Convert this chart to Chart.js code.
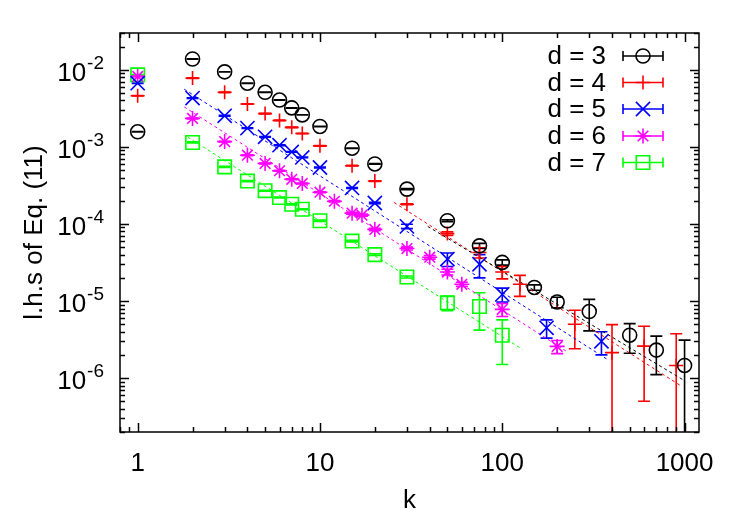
<!DOCTYPE html>
<html><head><meta charset="utf-8">
<script src="https://cdn.jsdelivr.net/npm/chart.js@4/dist/chart.umd.min.js"></script>
<style>html,body{margin:0;padding:0;background:#fff;}#wrap{width:747px;height:523px;}</style>
</head><body><div id="wrap"><canvas id="c" width="747" height="523"></canvas></div>
<script>
// ---- data ----
const seriesLabels = ['d = 3', 'd = 4', 'd = 5', 'd = 6', 'd = 7'];

const kD3 = [1,2,3,4,5,6,7,8,10,15,20,30,50,75,100,150,200,300,500,700,1000];
const vD3 = [1.57e-3,1.38e-2,9.4e-3,6.7e-3,5.1e-3,4.05e-3,3.2e-3,2.6e-3,1.84e-3,9.6e-4,6.0e-4,2.83e-4,1.1e-4,5.2e-5,3.17e-5,1.5e-5,9.7e-6,7.3e-6,3.6e-6,2.31e-6,1.46e-6];
const eD3 = [1e-5,5e-5,4e-5,3e-5,2.5e-5,2e-5,1.5e-5,1.3e-5,1e-5,8e-6,6e-6,4e-6,3e-6,4e-6,2.5e-6,1.2e-6,1.5e-6,3.2e-6,1.5e-6,1.2e-6,1.65e-6];

const kD4 = [1,2,3,4,5,6,7,8,10,15,20,30,50,75,100,125,250,400,600,900];
const vD4 = [4.6e-3,7.8e-3,5.1e-3,3.6e-3,2.7e-3,2.2e-3,1.79e-3,1.49e-3,1.03e-3,5.7e-4,3.6e-4,1.8e-4,7.5e-5,4.26e-5,2.38e-5,1.65e-5,5.0e-6,2.14e-6,2.6e-6,1.46e-6];
const eD4 = [3e-5,6e-5,4e-5,3e-5,2e-5,2e-5,1.5e-5,1.2e-5,8e-6,5e-6,3e-6,2e-6,4e-6,6.5e-6,4.4e-6,5e-6,2.6e-6,2.8e-6,2.1e-6,2.3e-6];

const kD5 = [1,2,3,4,5,6,7,8,10,15,20,30,50,75,100,175,350];
const vD5 = [6.7e-3,4.3e-3,2.53e-3,1.75e-3,1.35e-3,1.05e-3,8.6e-4,7.3e-4,5.4e-4,2.93e-4,1.87e-4,9.3e-5,3.5e-5,3.0e-5,1.22e-5,4.5e-6,3.0e-6];
const eD5 = [5e-5,4e-5,3e-5,2e-5,1.5e-5,1.2e-5,1e-5,8e-6,6e-6,4e-6,4e-6,6e-6,7e-6,1e-5,2.5e-6,1.2e-6,1e-6];

const kD6 = [1,2,3,4,5,6,7,8,10,12,15,17,20,30,40,50,60,100,200];
const vD6 = [8.2e-3,2.34e-3,1.17e-3,7.8e-4,6.1e-4,4.9e-4,3.8e-4,3.35e-4,2.58e-4,1.97e-4,1.38e-4,1.3e-4,8.5e-5,4.8e-5,3.7e-5,2.38e-5,1.65e-5,7.8e-6,2.58e-6];
const eD6 = [5e-5,3e-5,1.5e-5,1e-5,8e-6,6e-6,5e-6,4e-6,4e-6,4e-6,4e-6,4e-6,3e-6,2e-6,2e-6,2e-6,1e-6,1.5e-6,5e-7];

const kD7 = [1,2,3,4,5,6,7,8,10,15,20,30,50,75,100];
const vD7 = [8.6e-3,1.14e-3,5.5e-4,3.6e-4,2.7e-4,2.2e-4,1.8e-4,1.55e-4,1.1e-4,6.0e-5,4.0e-5,2.05e-5,9.5e-6,8.5e-6,3.6e-6];
const eD7 = [5e-5,2e-5,8e-6,6e-6,4e-6,3e-6,3e-6,2e-6,2e-6,1.5e-6,1e-6,6e-7,2e-6,4.3e-6,2.1e-6];

// power-law fit lines (end points)
const fitK3 = [39, 975],  fitV3 = [9.3e-5, 9.6e-7];
const fitK4 = [25.5, 950], fitV4 = [1.9e-4, 8.0e-7];
const fitK5 = [1.8, 377], fitV5 = [5.6e-3, 1.75e-6];
const fitK6 = [1.8, 230], fitV6 = [3.3e-3, 2.16e-6];
const fitK7 = [1.88, 129], fitV7 = [1.34e-3, 2.36e-6];

// axis ticks
const xMajor = [1, 10, 100, 1000];
const yExp = [-6, -5, -4, -3, -2];

// ---- styling ----
const FONT = "'Liberation Sans', Arial, Helvetica, sans-serif";
const FS = 26;
const colors = ['#000000', '#ff0000', '#0000ff', '#ff00ff', '#00ff00'];
const styles = ['circle', 'cross', 'crossRot', 'star', 'rect'];
const radii = [7, 7, 10, 7.5, 9.5];

const ks = [kD3, kD4, kD5, kD6, kD7];
const vs = [vD3, vD4, vD5, vD6, vD7];
const es = [eD3, eD4, eD5, eD6, eD7];
const fks = [fitK3, fitK4, fitK5, fitK6, fitK7];
const fvs = [fitV3, fitV4, fitV5, fitV6, fitV7];

const datasets = [];
for (let i = 0; i < 5; i++) {
  datasets.push({
    label: seriesLabels[i],
    type: 'scatter',
    data: ks[i].map((k, j) => ({x: k, y: vs[i][j]})),
    pointStyle: styles[i],
    pointRadius: radii[i],
    pointBorderWidth: 1.6,
    pointBorderColor: colors[i],
    pointBackgroundColor: 'rgba(0,0,0,0)',
    showLine: false,
    order: 1
  });
}
for (let i = 0; i < 5; i++) {
  datasets.push({
    label: 'fit ' + seriesLabels[i],
    type: 'line',
    data: fks[i].map((k, j) => ({x: k, y: fvs[i][j]})),
    borderColor: colors[i],
    borderWidth: 1,
    borderDash: [3, 3],
    pointRadius: 0,
    fill: false,
    order: 2
  });
}

const errPlugin = {
  id: 'errbars',
  beforeDatasetsDraw(chart) {
    const ctx = chart.ctx, xs = chart.scales.x, ys = chart.scales.y, ca = chart.chartArea;
    ctx.save();
    ctx.beginPath(); ctx.rect(ca.left, ca.top, ca.right - ca.left, ca.bottom - ca.top); ctx.clip();
    ctx.lineWidth = 1.6;
    const cap = 6;
    for (let i = 4; i >= 0; i--) {
      ctx.strokeStyle = colors[i];
      ks[i].forEach((k, j) => {
        const v = vs[i][j], e = es[i][j];
        const px = xs.getPixelForValue(k);
        const pt = ys.getPixelForValue(v + e);
        const low = v - e;
        const pb = low > 0 ? ys.getPixelForValue(low) : ca.bottom + 5;
        ctx.beginPath();
        ctx.moveTo(px, pt); ctx.lineTo(px, pb);
        ctx.moveTo(px - cap, pt); ctx.lineTo(px + cap, pt);
        if (low > 0) { ctx.moveTo(px - cap, pb); ctx.lineTo(px + cap, pb); }
        ctx.stroke();
      });
    }
    ctx.restore();
  }
};

const framePlugin = {
  id: 'frame',
  afterDraw(chart) {
    const ctx = chart.ctx, xs = chart.scales.x, ys = chart.scales.y, ca = chart.chartArea;
    ctx.save();
    ctx.strokeStyle = '#000'; ctx.lineWidth = 1.5;
    ctx.strokeRect(ca.left, ca.top, ca.right - ca.left, ca.bottom - ca.top);
    ctx.beginPath();
    for (let d = -1; d <= 3; d++) {
      for (let m = 1; m <= 9; m++) {
        const v = m * Math.pow(10, d);
        if (v < xs.min || v > xs.max) continue;
        const px = Math.round(xs.getPixelForValue(v)) + 0.5;
        const len = m === 1 ? 9 : 5;
        ctx.moveTo(px, ca.bottom); ctx.lineTo(px, ca.bottom - len);
        ctx.moveTo(px, ca.top); ctx.lineTo(px, ca.top + len);
      }
    }
    for (let d = -7; d <= -2; d++) {
      for (let m = 1; m <= 9; m++) {
        const v = m * Math.pow(10, d);
        if (v < ys.min || v > ys.max) continue;
        const py = Math.round(ys.getPixelForValue(v)) + 0.5;
        const len = m === 1 ? 9 : 5;
        ctx.moveTo(ca.left, py); ctx.lineTo(ca.left + len, py);
        ctx.moveTo(ca.right, py); ctx.lineTo(ca.right - len, py);
      }
    }
    ctx.stroke();

    // y tick labels 10^e
    ctx.fillStyle = '#000';
    ctx.textBaseline = 'alphabetic';
    const mainF = FS + 'px ' + FONT, supF = '19px ' + FONT;
    yExp.forEach(e => {
      const py = ys.getPixelForValue(Math.pow(10, e));
      const sup = String(e);
      ctx.font = supF; const sw = ctx.measureText(sup).width;
      ctx.font = mainF; const mw = ctx.measureText('10').width;
      const xEnd = 104;
      ctx.textAlign = 'left';
      ctx.font = mainF; ctx.fillText('10', xEnd - sw - mw - 1, py + 11);
      ctx.font = supF; ctx.fillText(sup, xEnd - sw, py - 1);
    });

    // legend
    const rowY = [56, 82.5, 109, 136, 162.5];
    ctx.font = FS + 'px ' + FONT;
    ctx.textAlign = 'right'; ctx.textBaseline = 'middle';
    for (let i = 0; i < 5; i++) {
      const y = rowY[i];
      ctx.fillStyle = '#000';
      ctx.fillText(seriesLabels[i], 606, y + 1);
      ctx.strokeStyle = colors[i]; ctx.lineWidth = 1.6;
      ctx.beginPath();
      ctx.moveTo(623, y); ctx.lineTo(663, y);
      ctx.moveTo(623, y - 5); ctx.lineTo(623, y + 5);
      ctx.moveTo(663, y - 5); ctx.lineTo(663, y + 5);
      ctx.stroke();
      ctx.fillStyle = 'rgba(0,0,0,0)';
      Chart.helpers.drawPoint(ctx, {pointStyle: styles[i], radius: radii[i], rotation: 0, borderWidth: 1.6}, 643, y);
    }
    ctx.restore();
  }
};

new Chart(document.getElementById('c'), {
  type: 'scatter',
  data: {datasets},
  options: {
    responsive: false, animation: false, devicePixelRatio: 1,
    layout: {padding: {left: 0, right: 48, top: 33, bottom: 0}, autoPadding: false},
    plugins: {legend: {display: false}, tooltip: {enabled: false}},
    scales: {
      x: {
        type: 'logarithmic', min: 0.8, max: 1200, position: 'bottom',
        grid: {display: false, drawTicks: false}, border: {display: false},
        ticks: {font: {family: FONT, size: FS}, color: '#000', padding: 16, maxRotation: 0, autoSkip: false,
                callback: v => String(v)},
        afterBuildTicks: s => { s.ticks = xMajor.map(v => ({value: v})); },
        afterFit: s => { s.height = 91; },
        title: {display: true, text: 'k', font: {family: FONT, size: FS}, color: '#000', padding: {top: 0, bottom: 7}}
      },
      y: {
        type: 'logarithmic', min: 2e-7, max: 3e-2, position: 'left',
        grid: {display: false, drawTicks: false}, border: {display: false},
        ticks: {display: false},
        afterFit: s => { s.width = 120; },
        title: {display: true, text: 'l.h.s of Eq. (11)', font: {family: FONT, size: FS}, color: '#000', padding: {top: 19, bottom: 0}}
      }
    }
  },
  plugins: [errPlugin, framePlugin]
});
</script></body></html>
